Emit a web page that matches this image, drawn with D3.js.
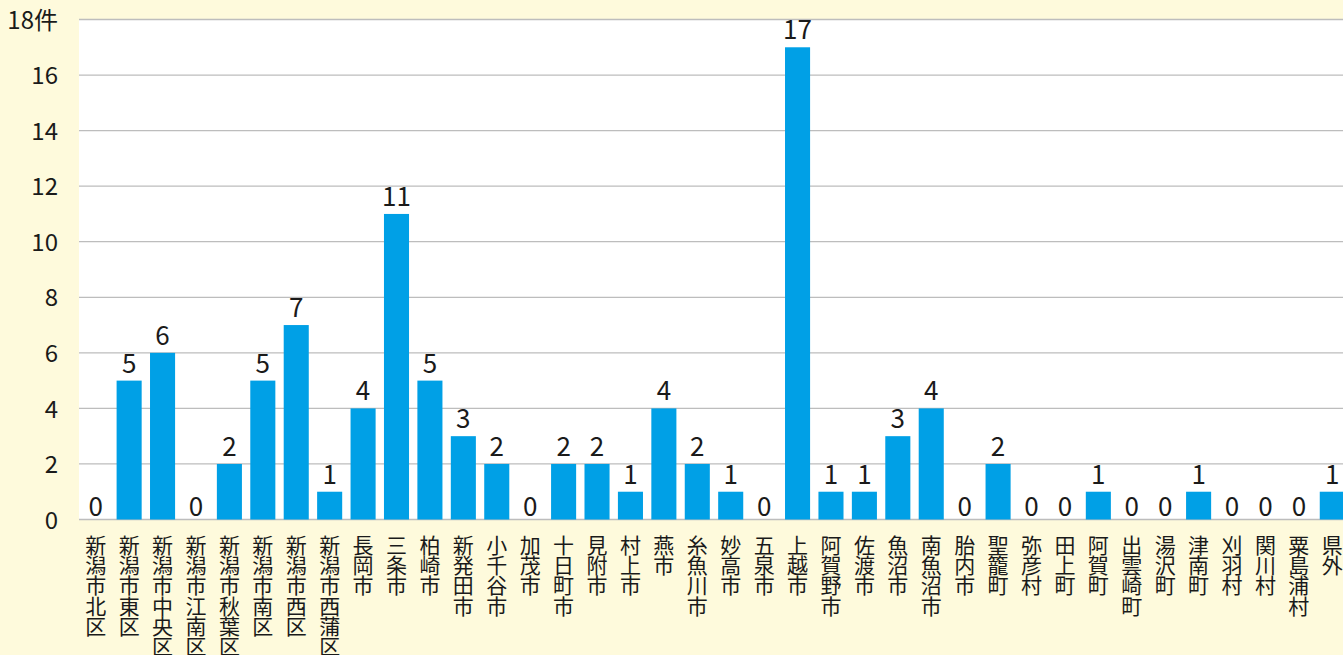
<!DOCTYPE html>
<html>
<head>
<meta charset="utf-8">
<script src="https://cdn.jsdelivr.net/npm/d3@7"></script>
<style>
  html, body { margin: 0; padding: 0; background: #fefadc; }
  svg { display: block; font-family: "Noto Sans CJK JP", "Noto Sans", sans-serif; }
</style>
</head>
<body>
<div id="chart"></div>
<script>
const categories = [
  "新潟市北区", "新潟市東区", "新潟市中央区", "新潟市江南区", "新潟市秋葉区", "新潟市南区",
  "新潟市西区", "新潟市西蒲区", "長岡市", "三条市", "柏崎市", "新発田市", "小千谷市", "加茂市",
  "十日町市", "見附市", "村上市", "燕市", "糸魚川市", "妙高市", "五泉市", "上越市", "阿賀野市",
  "佐渡市", "魚沼市", "南魚沼市", "胎内市", "聖籠町", "弥彦村", "田上町", "阿賀町", "出雲崎町",
  "湯沢町", "津南町", "刈羽村", "関川村", "粟島浦村", "県外"
];
const counts = [
  0, 5, 6, 0, 2, 5,
  7, 1, 4, 11, 5, 3, 2, 0,
  2, 2, 1, 4, 2, 1, 0, 17, 1,
  1, 3, 4, 0, 2, 0, 0, 1, 0,
  0, 1, 0, 0, 0, 1
];
const yTicks = [0, 2, 4, 6, 8, 10, 12, 14, 16, 18];
const yTickLabels = ["0", "2", "4", "6", "8", "10", "12", "14", "16", "18件"];

const width = 1343;
const height = 655;
const margin = { top: 19.5, left: 79, bottom: 135.5 };
const plotRight = 1349;
const innerHeight = height - margin.top - margin.bottom;

const svg = d3.select("#chart").append("svg").attr("width", width).attr("height", height);

const x = d3.scaleBand().domain(categories).range([margin.left, plotRight]).paddingInner(0.25).paddingOuter(0.125);
const y = d3.scaleLinear().domain([0, 18]).range([margin.top + innerHeight, margin.top]);

svg.append("rect")
  .attr("x", margin.left)
  .attr("y", margin.top)
  .attr("width", plotRight - margin.left)
  .attr("height", innerHeight)
  .attr("fill", "#ffffff");

svg.append("g")
  .selectAll("line")
  .data(yTicks)
  .join("line")
  .attr("x1", margin.left)
  .attr("x2", plotRight)
  .attr("y1", (d) => y(d))
  .attr("y2", (d) => y(d))
  .attr("stroke", "#bdbdbd")
  .attr("stroke-width", 1.3);

svg.append("g")
  .selectAll("text")
  .data(yTicks)
  .join("text")
  .attr("x", 58)
  .attr("y", (d) => y(d))
  .attr("dy", "0.38em")
  .attr("text-anchor", "end")
  .attr("font-size", 24)
  .attr("fill", "#1a1a1a")
  .text((d, i) => yTickLabels[i]);

svg.append("g")
  .selectAll("rect")
  .data(counts)
  .join("rect")
  .attr("x", (d, i) => x(categories[i]))
  .attr("y", (d) => y(d))
  .attr("width", x.bandwidth())
  .attr("height", (d) => y(0) - y(d))
  .attr("fill", "#00a0e6");

svg.append("g")
  .selectAll("text")
  .data(counts)
  .join("text")
  .attr("x", (d, i) => x(categories[i]) + x.bandwidth() / 2)
  .attr("y", (d) => y(d) - (d === 0 ? 4 : 8))
  .attr("text-anchor", "middle")
  .attr("font-size", 26)
  .attr("fill", "#1a1a1a")
  .text((d) => d);

// vertical category labels, one glyph per line
const labelGroup = svg.append("g");
categories.forEach((name, i) => {
  const cx = x(name) + x.bandwidth() / 2;
  Array.from(name).forEach((ch, j) => {
    labelGroup.append("text")
      .attr("x", cx)
      .attr("y", 553 + j * 20.2)
      .attr("text-anchor", "middle")
      .attr("font-size", 21)
      .attr("fill", "#1a1a1a")
      .text(ch);
  });
});
</script>
</body>
</html>
